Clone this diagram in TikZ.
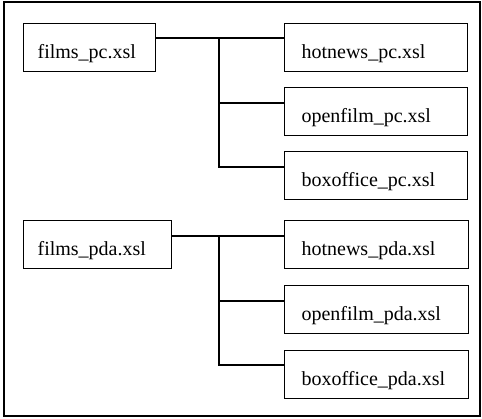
\documentclass[tikz,border=0pt]{standalone}
\usepackage{fontspec}
\setmainfont{Liberation Serif}
\begin{document}
\begin{tikzpicture}[x=1pt,y=-1pt,
  filebox/.style={draw, line width=1.2pt, inner ysep=0pt, text height=35pt, text depth=13pt,
    font=\fontsize{20}{24}\selectfont, anchor=north west, align=left},
  leftbox/.style={filebox, inner xsep=14pt, text width=#1-28pt},
  rightbox/.style={filebox, inner xsep=17pt, text width=#1-34pt},
  conn/.style={line width=1.2pt}]
\useasboundingbox (0,0) rectangle (482,418);
\draw[line width=1.5pt] (4,2) rectangle (480,416);
% top group
\node[leftbox=132pt] (fpc) at (23,23) {films\_pc.xsl};
\node[rightbox=183pt] (hpc) at (284,23) {hotnews\_pc.xsl};
\node[rightbox=183pt] (opc) at (284,87) {openfilm\_pc.xsl};
\node[rightbox=183pt] (bpc) at (284,151) {boxoffice\_pc.xsl};
\coordinate (j1) at (219,38);
\draw[conn] ([yshift=-15pt]fpc.north east) -- ([yshift=-15pt]hpc.north west);
\draw[conn] (j1) |- ([yshift=-16pt]opc.north west);
\draw[conn] (j1) |- ([yshift=-16pt]bpc.north west);
% bottom group
\node[leftbox=148pt] (fpda) at (23,220) {films\_pda.xsl};
\node[rightbox=184pt] (hpda) at (284,220) {hotnews\_pda.xsl};
\node[rightbox=184pt] (opda) at (284,285) {openfilm\_pda.xsl};
\node[rightbox=184pt] (bpda) at (284,350) {boxoffice\_pda.xsl};
\coordinate (j2) at (219,236);
\draw[conn] ([yshift=-16pt]fpda.north east) -- ([yshift=-16pt]hpda.north west);
\draw[conn] (j2) |- ([yshift=-16pt]opda.north west);
\draw[conn] (j2) |- ([yshift=-15pt]bpda.north west);
\end{tikzpicture}
\end{document}
